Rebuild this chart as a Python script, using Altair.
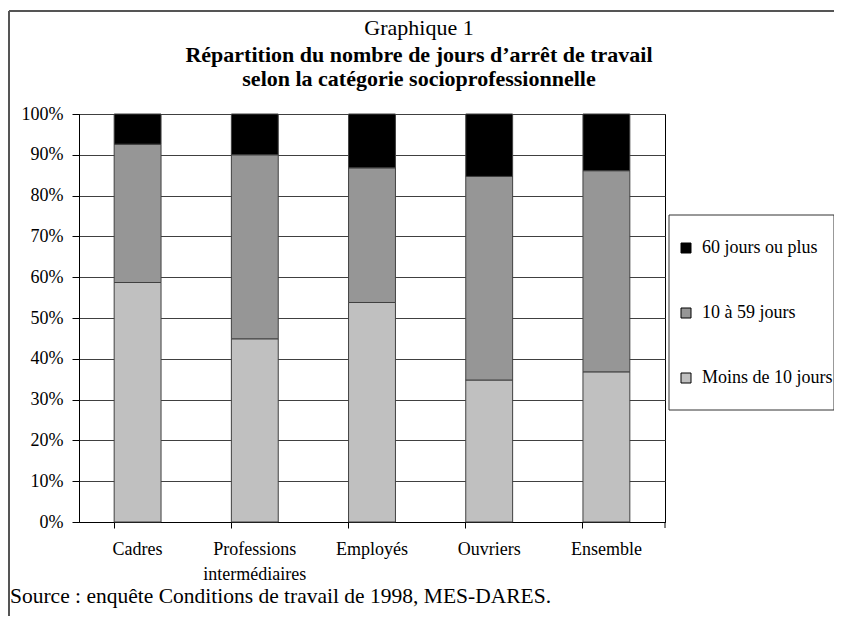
import altair as alt
import pandas as pd

categories = ["Cadres", "Professions intermédiaires", "Employés", "Ouvriers", "Ensemble"]
series = ["Moins de 10 jours", "10 à 59 jours", "60 jours ou plus"]
moins10 = [58.7, 44.9, 53.8, 34.8, 36.8]
de10a59 = [33.9, 45.1, 33.0, 49.9, 49.3]
plus60 = [7.4, 10.0, 13.2, 15.3, 13.9]
colors = ["#C0C0C0", "#969696", "#000000"]
y_ticks = [0, 10, 20, 30, 40, 50, 60, 70, 80, 90, 100]
title_lines = ["Graphique 1",
               "Répartition du nombre de jours d’arrêt de travail",
               "selon la catégorie socioprofessionnelle"]
source_text = "Source : enquête Conditions de travail de 1998, MES-DARES."

rows = []
for i, c in enumerate(categories):
    for rank, (s, vals) in enumerate(zip(series, [moins10, de10a59, plus60])):
        rows.append({"cat": c, "serie": s, "value": vals[i], "rank": rank})
df = pd.DataFrame(rows)

FONT = "Liberation Serif"
W, H = 586, 408

bars = alt.Chart(df).mark_bar(stroke="#404040", strokeWidth=1).encode(
    x=alt.X("cat:N", sort=categories, title=None,
            scale=alt.Scale(paddingInner=0.6, paddingOuter=0.3),
            axis=alt.Axis(labelAngle=0, bandPosition=0, tickSize=6, tickColor="black",
                          domainColor="black", labelFont=FONT, labelFontSize=18,
                          labelColor="black", labelPadding=12, labelLineHeight=25,
                          labelBaseline="top",
                          labelExpr="datum.label == 'Professions intermédiaires' ? ['Professions', 'intermédiaires'] : datum.label")),
    y=alt.Y("value:Q", stack="zero", title=None,
            scale=alt.Scale(domain=[0, 100], nice=False),
            axis=alt.Axis(values=y_ticks, labelExpr="datum.value + '%'", tickSize=7,
                          tickColor="black", domainColor="black", gridColor="#404040",
                          gridOpacity=1, labelFont=FONT, labelFontSize=18, labelColor="black",
                          labelPadding=9)),
    color=alt.Color("serie:N", title=None,
                    scale=alt.Scale(domain=series[::-1], range=colors[::-1]),
                    legend=alt.Legend(orient="none", legendX=598, legendY=125, padding=0,
                                      symbolType="square", symbolSize=100,
                                      symbolStrokeColor="black", symbolStrokeWidth=1,
                                      labelFont=FONT, labelFontSize=18, labelColor="black",
                                      rowPadding=47, labelOffset=7, labelLimit=300)),
    order=alt.Order("rank:Q", sort="ascending"),
)

one = pd.DataFrame({"k": [0]})
legend_box = alt.Chart(one).mark_rect(fill=None, stroke="#333333", strokeWidth=1).encode(
    x=alt.value(590), x2=alt.value(755), y=alt.value(101), y2=alt.value(296))
end_tick = alt.Chart(one).mark_rule(color="black").encode(
    x=alt.value(W), y=alt.value(H), y2=alt.value(H + 6))
frame_top = alt.Chart(one).mark_rule(color="#555555", strokeWidth=2).encode(
    x=alt.value(-70), x2=alt.value(760), y=alt.value(-103))
frame_left = alt.Chart(one).mark_rule(color="#555555", strokeWidth=2).encode(
    x=alt.value(-70), y=alt.value(-103), y2=alt.value(510))
source = alt.Chart(one).mark_text(text=source_text,
                                  align="left", baseline="middle", font=FONT, fontSize=21.5,
                                  color="black").encode(x=alt.value(-69), y=alt.value(483))
t1 = alt.Chart(one).mark_text(text=title_lines[0], align="center", baseline="alphabetic",
                              font=FONT, fontSize=22, color="black").encode(
    x=alt.value(340), y=alt.value(-79))
t2 = alt.Chart(one).mark_text(text=title_lines[1], align="center", baseline="alphabetic",
                              font=FONT, fontSize=22, fontWeight="bold", color="black").encode(
    x=alt.value(340), y=alt.value(-52))
t3 = alt.Chart(one).mark_text(text=title_lines[2], align="center", baseline="alphabetic",
                              font=FONT, fontSize=22, fontWeight="bold", color="black").encode(
    x=alt.value(340), y=alt.value(-28))

chart = alt.layer(bars, legend_box, end_tick, frame_top, frame_left, source, t1, t2, t3).properties(
    width=W, height=H,
    padding={"left": 71, "top": 106, "right": 169, "bottom": 94},
    autosize=alt.AutoSizeParams(type="none"),
).configure(
    background="white", font=FONT,
    style={"guide-label": {"font": FONT}, "guide-title": {"font": FONT}},
).configure_view(stroke="black", strokeWidth=1).configure_axis(
    labelFont=FONT, titleFont=FONT
).configure_legend(labelFont=FONT, titleFont=FONT)

chart.save("out.html", embed_options={"renderer": "svg", "actions": False})
